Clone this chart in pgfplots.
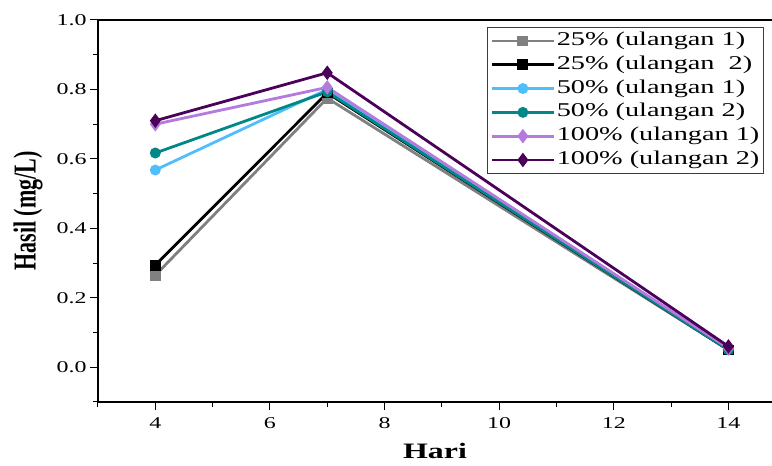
\documentclass[border=0pt]{standalone}
\usepackage{pgfplots}
\pgfplotsset{compat=1.18}
\usepackage{graphicx}
\usepackage{fontspec}
\setmainfont{Liberation Serif}
\definecolor{cgray}{RGB}{128,128,128}
\definecolor{cblue}{RGB}{80,190,250}
\definecolor{cteal}{RGB}{0,135,135}
\definecolor{clav}{RGB}{180,122,222}
\definecolor{cpurp}{RGB}{75,0,90}
\newcommand{\sx}[1]{\scalebox{1.45}[1]{#1}}
\begin{document}
\begin{tikzpicture}
\useasboundingbox (-98pt,-64pt) rectangle (674pt,402pt);
\begin{axis}[
  at={(0pt,0pt)}, anchor=south west,
  scale only axis, width=674pt, height=382pt,
  xmin=3, xmax=14.76, ymin=-0.1, ymax=1.0,
  axis x line*=box, axis y line*=left,
  xtick={4,6,8,10,12,14},
  xticklabels={\sx{4},\sx{6},\sx{8},\sx{10},\sx{12},\sx{14}},
  minor xtick={3,5,7,9,11,13},
  ytick={0,0.2,0.4,0.6,0.8,1.0},
  yticklabels={\sx{0.0},\sx{0.2},\sx{0.4},\sx{0.6},\sx{0.8},\sx{1.0}},
  minor ytick={-0.1,0.1,0.3,0.5,0.7,0.9},
  xtick pos=bottom, ytick pos=left,
  tick align=outside,
  major tick length=8pt, minor tick length=5pt,
  every tick/.style={black, line width=1pt},
  axis line style={black, line width=1.1pt},
  tick label style={font=\fontsize{16.5}{18}\selectfont},
  xticklabel style={yshift=-4pt},
  xlabel={\sx{\textbf{Hari}}},
  ylabel={\scalebox{1}[1.45]{\textbf{Hasil (mg/L)}}},
  label style={font=\fontsize{22}{24}\selectfont},
  xlabel style={at={(axis description cs:0.5,0)}, anchor=center, yshift=-49pt},
  ylabel style={at={(axis description cs:0,0.5)}, anchor=center, yshift=70pt},
  every axis plot/.append style={line width=2.8pt},
  every mark/.append style={xscale=1.4, solid, line width=1pt},
  legend style={at={(rel axis cs:0.577,0.982)}, anchor=north west,
    draw={rgb,255:red,60;green,60;blue,60}, line width=1.2pt,
    font=\fontsize{19.5}{22}\selectfont,
    nodes={inner sep=1.5pt, text height=14pt, text depth=5pt, anchor=west},
    row sep=1.8pt, inner xsep=3pt, inner ysep=2.5pt},
  legend cell align=left,
  legend image code/.code={\draw[mark repeat=2,mark phase=2,#1,line width=2.8pt] plot coordinates {(0pt,0pt) (31pt,0pt) (62pt,0pt)};},
]
\addplot[cgray, mark=square*, mark size=4pt] coordinates {(4,0.265) (7,0.775) (14,0.05)};
\addlegendentry{\sx{25\% (ulangan 1)}}
\addplot[black, mark=square*, mark size=4pt] coordinates {(4,0.294) (7,0.790) (14,0.05)};
\addlegendentry{\sx{25\% (ulangan\ \ 2)}}
\addplot[cblue, mark=*, mark size=4pt] coordinates {(4,0.568) (7,0.800) (14,0.052)};
\addlegendentry{\sx{50\% (ulangan 1)}}
\addplot[cteal, mark=*, mark size=4pt] coordinates {(4,0.617) (7,0.793) (14,0.05)};
\addlegendentry{\sx{50\% (ulangan 2)}}
\addplot[clav, mark=diamond*, mark size=5pt] coordinates {(4,0.700) (7,0.806) (14,0.055)};
\addlegendentry{\sx{100\% (ulangan 1)}}
\addplot[cpurp, mark=diamond*, mark size=5pt] coordinates {(4,0.710) (7,0.848) (14,0.06)};
\addlegendentry{\sx{100\% (ulangan 2)}}
\end{axis}
\end{tikzpicture}
\end{document}
